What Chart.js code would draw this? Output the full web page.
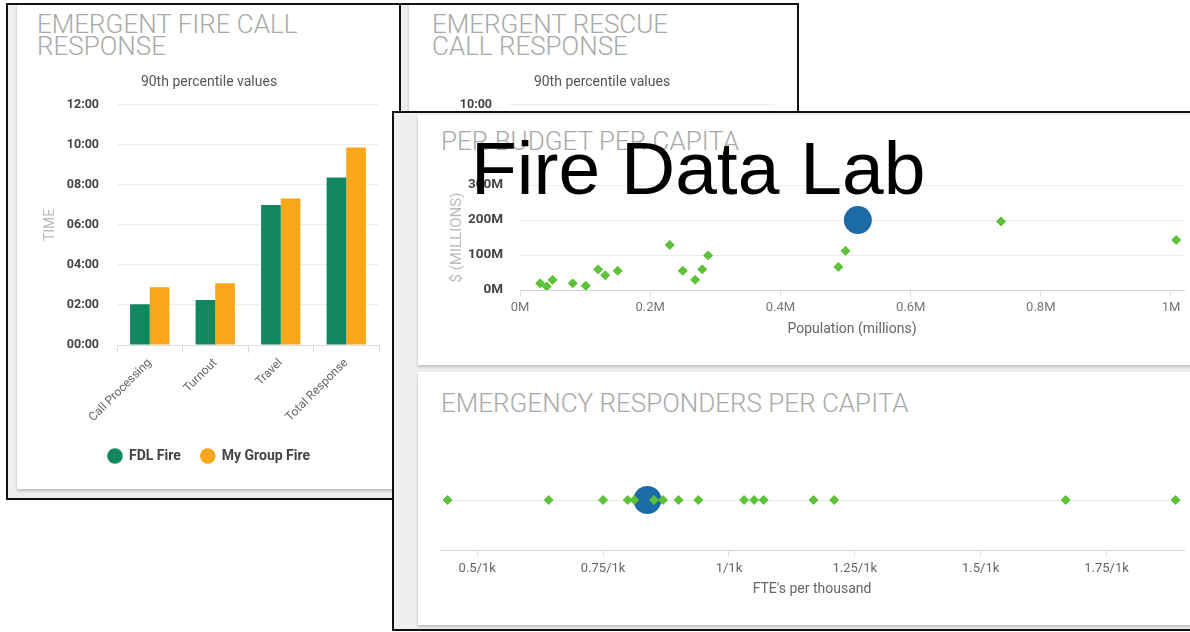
<!DOCTYPE html>
<html>
<head>
<meta charset="utf-8">
<script src="https://cdn.jsdelivr.net/npm/chart.js@4.4.0/dist/chart.umd.min.js"></script>
<style>
  html, body { margin: 0; padding: 0; }
  body { width: 1190px; height: 632px; overflow: hidden; position: relative; background: #fff; font-family: Roboto, 'Noto Sans', sans-serif; }
  .frame { position: absolute; box-sizing: border-box; border: 2px solid #111; background: #efefef; overflow: hidden; }
  .card { position: absolute; background: #fff; box-shadow: 0 2px 3px rgba(0,0,0,0.22); }
  .card-title { position: absolute; font-size: 26px; font-weight: 300; line-height: 22px; color: #a9a9a9; white-space: nowrap; }
  canvas { position: absolute; }
  #brand { position: absolute; left: 471px; top: 131px; font-family: 'Liberation Sans', Arial, sans-serif; font-size: 75px; line-height: 75px; color: #000; z-index: 10; white-space: nowrap; }
</style>
</head>
<body>

<div class="frame" style="left:6px; top:3px; width:395px; height:497px; z-index:1;">
  <div class="card" style="left:9px; top:0; width:382px; height:484px;">
    <div class="card-title" style="left:20px; top:8px;">EMERGENT FIRE CALL<br>RESPONSE</div>
    <canvas id="fireChart" width="358" height="432" style="left:22px; top:53px;"></canvas>
  </div>
</div>

<div class="frame" style="left:399px; top:3px; width:400px; height:497px; z-index:2;">
  <div class="card" style="left:8px; top:0; width:388px; height:484px;">
    <div class="card-title" style="left:23px; top:8px;">EMERGENT RESCUE<br>CALL RESPONSE</div>
    <canvas id="rescueChart" width="366" height="432" style="left:20px; top:53px;"></canvas>
  </div>
</div>

<div class="frame" style="left:392px; top:111px; width:850px; height:520px; z-index:3;">
  <div class="card" style="left:24px; top:2px; width:820px; height:250px;">
    <div class="card-title" style="left:23px; top:15px;">PER BUDGET PER CAPITA</div>
    <canvas id="budgetChart" width="780" height="190" style="left:0; top:45px;"></canvas>
  </div>
  <div class="card" style="left:24px; top:259px; width:820px; height:253px;">
    <div class="card-title" style="left:23px; top:20px;">EMERGENCY RESPONDERS PER CAPITA</div>
    <canvas id="respondersChart" width="780" height="175" style="left:0; top:64px;"></canvas>
  </div>
</div>

<div id="brand">Fire Data Lab</div>

<script>
// response times, in seconds
const responseCategories = ['Call Processing', 'Turnout', 'Travel', 'Total Response'];
const fdlFireSeconds = [122, 135, 420, 502];
const myGroupFireSeconds = [173, 185, 439, 592];

// budget vs population (population in millions, budget in $ millions)
const budgetPopulation = [0.031, 0.041, 0.050, 0.081, 0.101, 0.120, 0.131, 0.150, 0.230, 0.250, 0.269, 0.280, 0.289, 0.489, 0.500, 0.739, 1.008];
const budgetMillions = [19, 10, 29, 19, 12, 59, 42, 55, 129, 55, 29, 59, 99, 66, 112, 196, 143];
const myBudgetPopulation = 0.519;
const myBudgetMillions = 200;
const populationTicks = [0, 0.2, 0.4, 0.6, 0.8, 1];

// FTE's per thousand residents
const responderRates = [0.441, 0.642, 0.750, 0.799, 0.812, 0.851, 0.869, 0.900, 0.939, 1.030, 1.050, 1.069, 1.168, 1.209, 1.669, 1.887];
const myResponderRate = 0.838;
const rateTicks = [0.5, 0.75, 1, 1.25, 1.5, 1.75];

const fdlGreen = '#11875d';
const groupOrange = '#f9a61b';
const peerGreen = '#5cc236';
const myBlue = '#1c6aa6';

Chart.defaults.font.family = 'Roboto, "Noto Sans", sans-serif';

function fmtMinutes(v) {
  const m = Math.floor(v / 60), s = v % 60;
  return String(m).padStart(2, '0') + ':' + String(s).padStart(2, '0');
}

function fixedTicks(values) {
  return scale => { scale.ticks = values.map(v => ({ value: v })); };
}

function responseOptions(maxSeconds, rightPad, axisWidth, showLegend) {
  return {
    responsive: false,
    animation: false,
    layout: { padding: { left: 0, right: rightPad, top: 0, bottom: 17 } },
    datasets: { bar: { categoryPercentage: 0.6, barPercentage: 1.0 } },
    plugins: {
      title: { display: true, text: '90th percentile values', color: '#555', font: { size: 14, weight: 'normal' }, padding: { top: 16, bottom: 14 } },
      legend: {
        display: showLegend,
        position: 'bottom',
        labels: { usePointStyle: true, pointStyle: 'circle', boxHeight: 11, color: '#444', font: { size: 14, weight: 'bold' }, padding: 20 }
      },
      tooltip: { enabled: false }
    },
    scales: {
      x: {
        grid: { drawOnChartArea: false, tickLength: 8, color: '#ddd' },
        border: { color: '#ddd' },
        ticks: { maxRotation: 45, minRotation: 45, color: '#666', font: { size: 12 } },
        afterFit: s => { s.height = 84; }
      },
      y: {
        min: 0, max: maxSeconds,
        ticks: { stepSize: 120, padding: 18, color: '#444', font: { size: 12.5, weight: 'bold' }, callback: v => fmtMinutes(v) },
        grid: { color: '#eee', drawTicks: false },
        border: { display: false },
        title: { display: true, text: 'TIME', color: '#bbb', font: { size: 14 }, padding: { top: 3 } },
        afterFit: s => { s.width = axisWidth; }
      }
    }
  };
}

new Chart(document.getElementById('fireChart'), {
  type: 'bar',
  data: {
    labels: responseCategories,
    datasets: [
      { label: 'FDL Fire', data: fdlFireSeconds, backgroundColor: fdlGreen },
      { label: 'My Group Fire', data: myGroupFireSeconds, backgroundColor: groupOrange }
    ]
  },
  options: responseOptions(720, 18, 78, true)
});

new Chart(document.getElementById('rescueChart'), {
  type: 'bar',
  data: { labels: responseCategories, datasets: [] },
  options: responseOptions(600, 20, 81, false)
});

new Chart(document.getElementById('budgetChart'), {
  type: 'scatter',
  data: {
    datasets: [
      {
        label: 'Departments',
        data: budgetPopulation.map((x, i) => ({ x: x, y: budgetMillions[i] })),
        pointStyle: 'rectRot', pointRadius: 4.5, backgroundColor: peerGreen, borderColor: peerGreen, borderWidth: 1
      },
      {
        label: 'My department',
        data: [{ x: myBudgetPopulation, y: myBudgetMillions }],
        pointStyle: 'circle', pointRadius: 14, backgroundColor: myBlue, borderWidth: 0
      }
    ]
  },
  options: {
    responsive: false,
    animation: false,
    layout: { padding: { left: 0, right: 12, top: 25, bottom: 8 } },
    plugins: { legend: { display: false }, tooltip: { enabled: false } },
    scales: {
      x: {
        type: 'linear', min: 0, max: 1.02,
        afterBuildTicks: fixedTicks(populationTicks),
        ticks: { padding: 4, color: '#777', font: { size: 13 }, callback: v => (Math.round(v * 10) / 10) + 'M' },
        grid: { drawOnChartArea: false, tickLength: 6, color: '#ddd' },
        border: { color: '#cfd3dc' },
        title: { display: true, text: 'Population (millions)', color: '#666', font: { size: 14 }, padding: { top: 4, bottom: 4 } },
        afterFit: s => { s.height = 52; }
      },
      y: {
        min: 0, max: 300,
        ticks: { stepSize: 100, padding: 17, color: '#444', font: { size: 13.5, weight: 'bold' }, callback: v => v + 'M' },
        grid: { color: '#ececec', drawTicks: false },
        border: { display: false },
        title: { display: true, text: '$ (MILLIONS)', color: '#bbb', font: { size: 15 }, padding: { top: 30 } },
        afterFit: s => { s.width = 102; }
      }
    }
  }
});

new Chart(document.getElementById('respondersChart'), {
  type: 'scatter',
  data: {
    datasets: [
      {
        label: 'Departments',
        data: responderRates.map(x => ({ x: x, y: 0 })),
        pointStyle: 'rectRot', pointRadius: 4.5, backgroundColor: peerGreen, borderColor: peerGreen, borderWidth: 1
      },
      {
        label: 'My department',
        data: [{ x: myResponderRate, y: 0 }],
        pointStyle: 'circle', pointRadius: 14, backgroundColor: myBlue, borderWidth: 0
      }
    ]
  },
  options: {
    responsive: false,
    animation: false,
    layout: { padding: { left: 22, right: 12, top: 10, bottom: 9 } },
    plugins: { legend: { display: false }, tooltip: { enabled: false } },
    scales: {
      x: {
        type: 'linear', min: 0.426, max: 1.904,
        afterBuildTicks: fixedTicks(rateTicks),
        ticks: { padding: 5, color: '#666', font: { size: 13 }, callback: v => (Math.round(v * 100) / 100) + '/1k' },
        grid: { drawOnChartArea: false, tickLength: 6, color: '#ddd' },
        border: { color: '#cfd3dc' },
        title: { display: true, text: "FTE's per thousand", color: '#666', font: { size: 14 }, padding: { top: 4, bottom: 4 } },
        afterFit: s => { s.height = 52; }
      },
      y: {
        min: -1, max: 1,
        ticks: { display: false, stepSize: 1 },
        grid: { drawTicks: false, color: c => (c.tick && c.tick.value === 0 ? '#e6e6e6' : 'rgba(0,0,0,0)') },
        border: { display: false },
        afterFit: s => { s.width = 0; }
      }
    }
  }
});
</script>
</body>
</html>
